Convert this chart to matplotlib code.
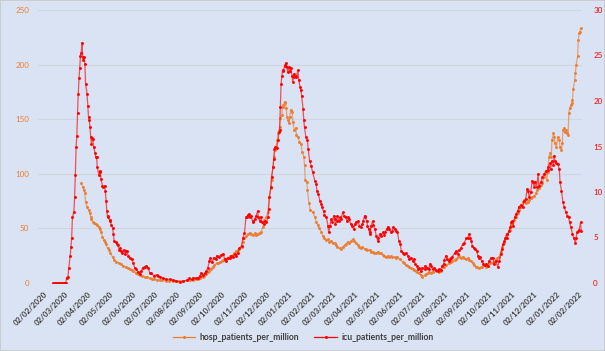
import matplotlib
matplotlib.use("Agg")
import matplotlib.pyplot as plt
from matplotlib.lines import Line2D
from matplotlib.patches import Rectangle
import pandas as pd

# ---- data (day offsets from 2020-02-02, values per million) ----
start_date = "2020-02-02"

icu_day = [13, 15, 17, 19, 21, 23, 25, 27, 29, 30,
           31, 33, 34, 36, 37, 38, 39, 41, 42, 43, 44, 45, 46, 47, 48, 49, 50, 51, 52, 53, 54, 55, 56, 57,
           59, 60, 61, 62, 63, 64, 65, 66, 67, 68, 70, 71, 72, 73, 75, 76, 77, 78, 80, 81, 83, 84, 85, 86,
           87, 88, 90, 91, 92, 94, 95, 96, 98, 100, 101, 103, 104, 105, 107, 109, 111, 112, 114, 115, 117,
           120, 122, 124, 126, 129, 131, 133, 135, 138, 140, 142, 145, 147, 150, 154, 156, 158, 163, 167,
           172, 176, 181, 186, 190, 195, 198, 202, 204, 208, 211, 213, 215, 217, 220, 222, 224, 226, 227,
           230, 232, 235, 236, 239, 242, 245, 247, 249, 251, 254, 256, 258, 261, 263, 265, 267, 270, 272,
           274, 276, 277, 279, 280, 281, 283, 285, 286, 288, 290, 292, 293, 295, 296, 298, 300, 302, 304,
           306, 307, 308, 310, 311, 313, 314, 315, 316, 318, 320, 321, 322, 323, 324, 325, 326, 327, 329,
           330, 331, 332, 333, 335, 336, 337, 339, 340, 341, 342, 344, 345, 347, 348, 350, 351, 352, 354,
           355, 356, 358, 360, 361, 363, 365, 367, 370, 372, 373, 375, 377, 379, 380, 382, 383, 386, 388,
           389, 391, 392, 394, 396, 397, 398, 400, 401, 403, 405, 406, 408, 410, 412, 414, 416, 417, 419,
           421, 423, 425, 426, 429, 431, 433, 435, 436, 438, 439, 441, 442, 444, 445, 446, 447, 449, 450,
           452, 454, 456, 457, 459, 461, 463, 465, 466, 468, 470, 472, 474, 476, 477, 479, 481, 483, 485,
           487, 488, 491, 492, 495, 497, 499, 501, 504, 506, 507, 509, 511, 513, 515, 517, 520, 521, 523,
           526, 527, 529, 531, 533, 536, 538, 540, 542, 544, 546, 547, 549, 551, 553, 555, 556, 558, 561,
           563, 565, 567, 570, 572, 574, 577, 579, 581, 582, 584, 585, 587, 589, 591, 593, 595, 596, 598,
           600, 602, 604, 606, 608, 611, 613, 615, 617, 620, 622, 624, 626, 627, 629, 630, 632, 633, 635,
           637, 638, 640, 641, 643, 645, 647, 649, 652, 654, 656, 658, 660, 661, 663, 665, 667, 668, 670,
           671, 673, 675, 676, 679, 681, 683, 686, 688, 689, 691, 692, 694, 696, 697, 698, 700, 702, 704,
           705, 707, 709, 711, 713, 715, 717, 718, 720, 722, 724, 726, 727, 728, 730, 731, 733, 734]

icu_val = [0, 0, 0, 0, 0, 0, 0, 0, 0, 0,
           0.6, 0.7, 1.7, 3.0, 4.0, 5.0, 7.2, 7.8, 9.4, 11.9, 14.9, 16.1, 18.7, 20.8, 22.5, 23.6, 25.0, 25.3, 26.4, 24.8, 24.5, 24.8, 24.1, 21.9,
           20.8, 19.4, 18.2, 17.9, 17.1, 16.0, 15.3, 15.9, 15.8, 14.9, 14.3, 13.8, 13.8, 12.7, 11.9, 12.3, 12.2, 11.4, 10.7, 10.5, 10.7, 10.1, 9.0, 7.9,
           7.2, 7.4, 6.8, 6.9, 6.4, 6.0, 5.4, 4.6, 4.5, 4.3, 4.2, 3.6, 3.8, 3.5, 3.3, 3.6, 3.2, 3.5, 3.5, 3.0, 2.8,
           2.6, 2.2, 1.7, 1.5, 1.2, 1.0, 1.3, 1.7, 1.8, 1.9, 1.7, 1.1, 1.05, 0.8, 0.9, 0.8, 0.7, 0.5, 0.4,
           0.4, 0.3, 0.25, 0.1, 0.2, 0.3, 0.5, 0.4, 0.6, 0.5, 0.6, 0.8, 1.1, 0.9, 1.05, 1.3, 1.7, 2.4, 2.7,
           2.3, 2.8, 2.65, 3.0, 2.9, 3.1, 3.2, 2.6, 2.4, 2.8, 2.7, 3.0, 2.9, 3.2, 3.0, 3.3, 3.8, 4.1, 5.0,
           5.5, 7.2, 7.3, 7.5, 7.6, 7.2, 7.4, 6.8, 6.65, 7.0, 7.4, 7.9, 7.2, 6.8, 7.3, 6.65, 6.5, 6.8, 6.65,
           7.2, 8.1, 9.4, 10.5, 11.7, 12.7, 13.6, 14.7, 14.9, 14.85, 15.7, 16.6, 16.8, 19.3, 21.9, 22.7, 23.4, 23.3, 23.9,
           24.0, 24.2, 23.7, 23.2, 23.7, 23.3, 23.6, 22.8, 22.1, 22.6, 23.0, 22.6, 22.7, 23.4, 22.35, 21.5, 21.2, 20.6, 19.15,
           17.9, 17.1, 16.0, 15.7, 14.7, 13.45, 12.9, 12.2, 11.25, 10.9, 10.1, 9.8, 9.0, 8.7, 8.3, 7.9, 7.5, 7.2, 6.3,
           5.55, 6.3, 7.0, 6.65, 7.4, 7.0, 6.5, 6.8, 7.4, 6.8, 7.2, 7.0, 7.75, 7.4, 7.2, 6.8, 7.2, 7.0, 6.5,
           6.3, 5.9, 6.5, 6.65, 6.8, 6.3, 6.1, 6.5, 6.8, 7.4, 7.2, 6.8, 6.3, 5.9, 5.4, 5.55, 6.3, 6.8, 6.4,
           5.9, 5.2, 4.6, 4.9, 5.4, 5.2, 5.55, 5.3, 5.55, 5.9, 6.2, 5.9, 5.55, 5.7, 6.1, 5.9, 5.7, 5.55, 4.6,
           4.3, 3.5, 3.3, 3.2, 3.3, 3.0, 2.6, 2.8, 2.4, 2.6, 2.1, 1.9, 1.5, 1.6, 1.3, 1.7, 1.5, 1.9, 1.7,
           1.5, 2.1, 1.9, 1.5, 1.7, 1.4, 1.3, 1.5, 1.4, 1.9, 2.1, 2.5, 3.0, 2.6, 2.4, 2.6, 2.8, 2.9, 3.3,
           3.5, 3.2, 3.6, 3.9, 4.3, 4.4, 4.9, 5.0, 5.4, 5.0, 4.6, 4.1, 3.9, 3.7, 3.5, 3.0, 2.8, 2.9, 2.4,
           2.1, 2.0, 2.1, 1.9, 2.4, 2.8, 2.8, 2.1, 2.4, 1.8, 2.4, 3.2, 3.7, 4.3, 4.6, 4.9, 5.4, 5.0, 5.7,
           6.1, 6.65, 6.8, 6.3, 7.2, 7.6, 7.9, 8.4, 8.6, 8.3, 9.0, 9.2, 10.3, 10.1, 9.4, 10.0, 11.25, 11.1, 10.5,
           11.1, 10.5, 12.0, 10.7, 11.1, 11.6, 12.0, 12.35, 12.4, 12.8, 13.15, 12.5, 13.45, 13.0, 14.0, 13.4, 13.15, 13.1, 12.5,
           11.1, 10.1, 8.85, 8.3, 7.75, 7.4, 7.2, 6.65, 6.1, 5.4, 4.9, 4.4, 4.9, 5.55, 5.7, 5.8, 6.65, 5.7]

hosp_day = [51, 53, 55, 56, 57, 59, 61, 63, 64, 65, 67, 69, 71, 73, 75, 76, 78, 80, 82, 84, 85, 87, 89,
            91, 94, 96, 99, 102, 105, 108, 112, 115, 117, 120, 122, 126, 128, 131, 134, 138, 141, 145, 148,
            151, 154, 158, 162, 167, 171, 176, 180, 185, 190, 195, 199, 204, 208, 211, 213, 217, 219, 222,
            224, 226, 228, 231, 233, 236, 238, 240, 243, 245, 247, 249, 251, 254, 256, 258, 260, 263, 265,
            267, 270, 272, 274, 276, 279, 281, 283, 286, 288, 290, 292, 295, 297, 299, 301, 304, 306, 308,
            310, 311, 313, 314, 316, 317, 319, 320, 322, 323, 325, 326, 327, 329, 330, 331, 332, 334, 335,
            336, 337, 339, 340, 342, 344, 345, 347, 349, 351, 353, 355, 356, 357, 359, 360, 362, 364, 367,
            370, 372, 374, 376, 379, 381, 383, 386, 388, 390, 392, 395, 397, 399, 401, 404, 406, 408, 411,
            413, 415, 417, 420, 422, 424, 426, 429, 431, 433, 435, 438, 440, 442, 445, 447, 449, 451, 454,
            456, 458, 461, 463, 465, 467, 470, 472, 474, 476, 479, 481, 483, 486, 490, 492, 495, 497, 499,
            501, 504, 506, 508, 510, 513, 515, 517, 520, 522, 524, 526, 529, 531, 536, 540, 542, 545, 547,
            549, 554, 556, 558, 561, 563, 565, 567, 570, 572, 574, 577, 579, 581, 583, 586, 588, 590, 592,
            595, 597, 599, 601, 604, 606, 608, 610, 613, 615, 617, 619, 622, 624, 626, 629, 631, 633, 636,
            638, 640, 642, 645, 647, 649, 652, 654, 656, 658, 661, 663, 665, 667, 670, 672, 674, 676, 679,
            681, 683, 686, 687, 688, 690, 691, 693, 694, 696, 697, 698, 700, 702, 704, 705, 707, 708, 709,
            711, 712, 713, 715, 716, 717, 718, 720, 721, 722, 723, 725, 726, 727, 729, 730, 731, 732, 733]

hosp_val = [91.3, 88.2, 85.2, 82.1, 74.5, 69.9, 66.8, 63.8, 60.7, 58.3, 56.1, 54.7, 54.0, 53.1, 51.6, 49.2, 47.0, 42.4, 39.4, 37.8, 35.7, 31.8, 30.2,
            27.2, 23.5, 21.1, 19.5, 18.6, 17.4, 15.6, 14.9, 13.5, 12.5, 11.5, 11.0, 8.9, 8.2, 7.3, 6.5, 5.8, 5.2, 4.3, 3.8,
            3.4, 3.0, 2.7, 2.4, 2.1, 2.0, 1.8, 1.8, 1.8, 2.0, 2.3, 2.5, 2.7, 3.5, 4.0, 4.3, 5.8, 6.8, 8.2,
            9.7, 11.3, 13.0, 14.9, 16.5, 18.0, 18.4, 18.8, 20.0, 21.1, 21.5, 22.0, 23.0, 24.5, 25.0, 25.6, 27.5, 29.3, 30.0,
            31.1, 33.2, 37.8, 40.9, 43.0, 44.6, 46.1, 44.9, 44.0, 45.5, 44.0, 44.9, 46.1, 47.0, 51.6, 57.7, 60.7, 65.3, 79.0,
            86.7, 94.3, 106.5, 115.7, 121.8, 124.8, 131.0, 137.1, 143.1, 150.8, 153.8, 161.4, 163.0, 166.0, 164.6, 160.0, 152.3, 149.3, 146.2,
            152.3, 158.4, 156.9, 147.7, 140.1, 141.7, 135.5, 134.0, 129.4, 127.3, 120.2, 115.7, 108.1, 94.3, 92.8, 85.2, 73.0, 66.8, 65.3,
            60.7, 56.1, 53.1, 50.1, 47.0, 43.0, 40.9, 39.4, 40.0, 37.8, 38.7, 36.4, 36.9, 34.8, 33.2, 31.8, 30.9, 33.2, 34.8,
            35.7, 37.8, 36.9, 38.7, 40.0, 38.7, 36.4, 34.8, 32.7, 31.8, 33.2, 31.4, 30.9, 30.2, 30.2, 28.7, 28.7, 27.2, 27.7,
            28.7, 27.2, 27.7, 25.6, 24.7, 24.1, 24.7, 24.1, 24.7, 24.1, 23.5, 22.6, 23.5, 21.8, 19.5, 18.0, 16.5, 15.7, 14.9,
            13.7, 12.5, 12.0, 11.3, 10.0, 8.9, 7.3, 5.8, 7.3, 8.2, 8.9, 10.3, 9.4, 10.3, 11.3, 10.3, 11.3, 14.9, 14.4,
            16.5, 18.0, 19.5, 20.4, 21.1, 21.7, 23.5, 24.7, 22.6, 24.1, 22.6, 21.7, 22.6, 21.1, 20.4, 18.6, 16.5, 14.9, 14.4,
            13.5, 14.4, 14.9, 16.5, 14.9, 15.6, 18.0, 18.5, 18.0, 19.5, 21.1, 22.5, 24.1, 28.7, 33.2, 36.9, 40.9, 44.9, 48.5,
            52.2, 55.2, 57.7, 60.7, 63.8, 66.8, 69.3, 74.5, 76.0, 73.5, 74.5, 76.0, 77.6, 79.0, 79.7, 82.1, 85.2, 86.7, 89.7,
            91.3, 97.3, 100.5, 94.3, 101.9, 115.7, 118.8, 115.7, 131.0, 137.1, 134.0, 127.9, 124.8, 134.0, 131.0, 124.8, 121.8, 127.9, 140.1,
            141.7, 138.6, 140.1, 137.1, 135.5, 155.4, 160.0, 163.0, 164.6, 167.6, 177.4, 185.9, 192.0, 199.6, 207.9, 222.5, 228.7, 230.1, 233.2]

hosp_label = "hosp_patients_per_million"
icu_label = "icu_patients_per_million"
left_ticks = [0, 50, 100, 150, 200, 250]
right_ticks = [0, 5, 10, 15, 20, 25, 30]

# ---- style ----
BG = "#DAE3F3"
ORANGE = "#ED7D31"
RED = "#FF0000"
GRID = "#D0D5DE"
TXT = "#404040"
FONT = ["Lato", "DejaVu Sans"]
plt.rcParams["font.family"] = FONT

t0 = pd.Timestamp(start_date)
icu_dates = t0 + pd.to_timedelta(icu_day, unit="D")
hosp_dates = t0 + pd.to_timedelta(hosp_day, unit="D")
tick_dates = pd.date_range("2020-02-01", "2022-02-01", freq="MS") + pd.Timedelta(days=1)

fig = plt.figure(figsize=(6.05, 3.51), dpi=100, facecolor=BG)
ax = fig.add_axes([38 / 605, 1 - 283 / 351, 544 / 605, 273 / 351])
ax.set_facecolor(BG)
ax2 = ax.twinx()
ax2.patch.set_visible(False)

ax.plot(hosp_dates, hosp_val, "-", color=ORANGE, lw=0.9, alpha=0.65, zorder=3)
ax.plot(hosp_dates, hosp_val, "o", color=ORANGE, ms=2.1, mew=0, zorder=4)
ax2.plot(icu_dates, icu_val, "-", color=RED, lw=0.9, alpha=0.65, zorder=3)
ax2.plot(icu_dates, icu_val, "o", color=RED, ms=2.1, mew=0, zorder=4)

ax.set_ylim(0, 250)
ax2.set_ylim(0, 30)
ax.set_yticks(left_ticks)
ax2.set_yticks(right_ticks)
ax.set_xlim(t0 - pd.Timedelta(days=8), t0 + pd.Timedelta(days=735))
ax.set_xticks(tick_dates)
ax.set_xticklabels([d.strftime("%d/%m/%Y") for d in tick_dates], rotation=45,
                   ha="right", rotation_mode="anchor", fontsize=5.7,
                   fontweight="bold", color=TXT)
ax.tick_params(axis="x", length=0, pad=5.5)
ax.tick_params(axis="y", length=0, pad=6.5, labelsize=5.8, labelcolor=ORANGE)
ax2.tick_params(axis="y", length=0, pad=8, labelsize=5.8, labelcolor=RED)

ax.grid(axis="y", color=GRID, lw=0.8)
ax.grid(axis="x", visible=False)
ax.set_axisbelow(True)
for a in (ax, ax2):
    for s in a.spines.values():
        s.set_visible(False)

handles = [Line2D([0], [0], color=ORANGE, lw=0.9, marker="o", ms=2.2, mew=0),
           Line2D([0], [0], color=RED, lw=0.9, marker="o", ms=2.2, mew=0)]
leg = fig.legend(handles, [hosp_label, icu_label], loc="center",
                 bbox_to_anchor=(303 / 605, 1 - 338 / 351), ncol=2, frameon=False,
                 prop={"family": FONT, "weight": "bold", "size": 6.2},
                 handlelength=2.6, columnspacing=1.8, handletextpad=0.5)
for t in leg.get_texts():
    t.set_color(TXT)

fig.patches.append(Rectangle((0, 0), 1, 1, transform=fig.transFigure, fill=False,
                             ec="#C8C8C8", lw=1.2))

fig.savefig("out.png", dpi=100, facecolor=BG)
